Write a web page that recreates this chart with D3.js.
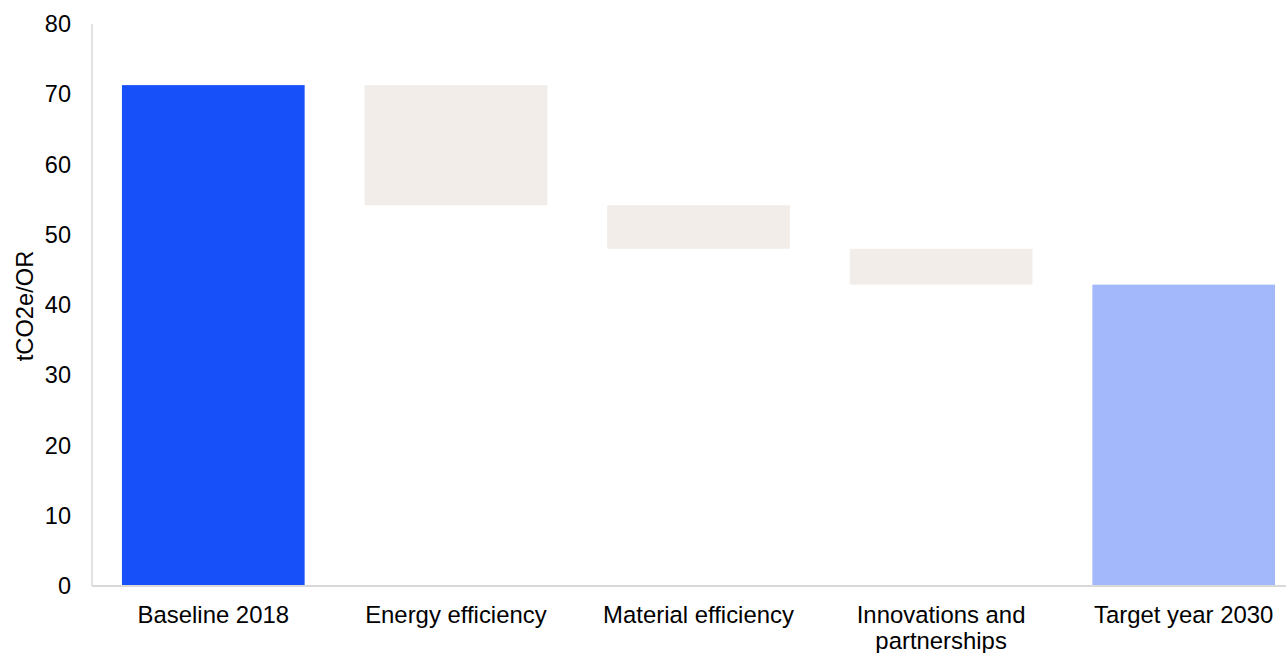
<!DOCTYPE html>
<html>
<head>
<meta charset="utf-8">
<script src="https://cdn.jsdelivr.net/npm/d3@7/dist/d3.min.js"></script>
<style>
  html, body { margin: 0; padding: 0; background: #fff; }
  svg { display: block; font-family: "Liberation Sans", Arial, sans-serif; }
</style>
</head>
<body>
<svg id="chart" width="1286" height="653"></svg>
<script>
// Emission pathway (tCO2e/OR): start level, reduction steps, end level
const categories = ["Baseline 2018", "Energy efficiency", "Material efficiency", "Innovations and partnerships", "Target year 2030"];
const baselineValue = 71.3;
const reductions = [17.1, 6.2, 5.1];
const targetValue = 42.9;
const yTicks = [0, 10, 20, 30, 40, 50, 60, 70, 80];
const yLabel = "tCO2e/OR";

const colors = { baseline: "#1750F8", step: "#F2EDE8", target: "#A2B8FA" };

const svg = d3.select("#chart");
const margin = { left: 92, top: 24, bottom: 586 };
const plotRight = 1305;

const x = d3.scaleBand()
  .domain(categories)
  .range([margin.left, plotRight])
  .paddingInner(0.247)
  .paddingOuter(0.1235);

const y = d3.scaleLinear().domain([0, 80]).range([margin.bottom, margin.top]);

// Build floating segments for the waterfall
const segments = [];
segments.push({ cat: categories[0], y0: 0, y1: baselineValue, fill: colors.baseline });
let level = baselineValue;
reductions.forEach((r, i) => {
  segments.push({ cat: categories[i + 1], y0: level - r, y1: level, fill: colors.step });
  level -= r;
});
segments.push({ cat: categories[4], y0: 0, y1: targetValue, fill: colors.target });

svg.append("g").selectAll("rect")
  .data(segments)
  .join("rect")
  .attr("x", d => x(d.cat))
  .attr("width", x.bandwidth())
  .attr("y", d => y(d.y1))
  .attr("height", d => y(d.y0) - y(d.y1))
  .attr("fill", d => d.fill);

// Axis lines
svg.append("line")
  .attr("x1", margin.left).attr("x2", margin.left)
  .attr("y1", y(80)).attr("y2", y(0))
  .attr("stroke", "#d9d9d9").attr("stroke-width", 1.5);
svg.append("line")
  .attr("x1", margin.left).attr("x2", 1286)
  .attr("y1", y(0)).attr("y2", y(0))
  .attr("stroke", "#d9d9d9").attr("stroke-width", 1.8);

// Y tick labels
const yAxis = d3.axisLeft(y).tickValues(yTicks).tickSize(0).tickPadding(21);
const gy = svg.append("g").attr("transform", `translate(${margin.left},0)`).call(yAxis);
gy.select(".domain").remove();
gy.selectAll("text")
  .attr("font-size", "23.5px")
  .attr("fill", "#000")
  .attr("font-family", "Liberation Sans, Arial, sans-serif");

// Category labels, wrapped onto two lines where needed
const labelLines = { "Innovations and partnerships": ["Innovations and", "partnerships"] };
const gx = svg.append("g");
categories.forEach(c => {
  const lines = labelLines[c] || [c];
  const t = gx.append("text")
    .attr("x", x(c) + x.bandwidth() / 2)
    .attr("y", 623)
    .attr("text-anchor", "middle")
    .attr("font-size", "23.9px")
    .attr("fill", "#000");
  lines.forEach((l, i) => {
    t.append("tspan")
      .attr("x", x(c) + x.bandwidth() / 2)
      .attr("dy", i === 0 ? 0 : 26)
      .text(l);
  });
});

// Y axis title
svg.append("text")
  .attr("transform", `translate(33,306) rotate(-90)`)
  .attr("text-anchor", "middle")
  .attr("font-size", "23.7px")
  .attr("fill", "#000")
  .text(yLabel);
</script>
</body>
</html>
